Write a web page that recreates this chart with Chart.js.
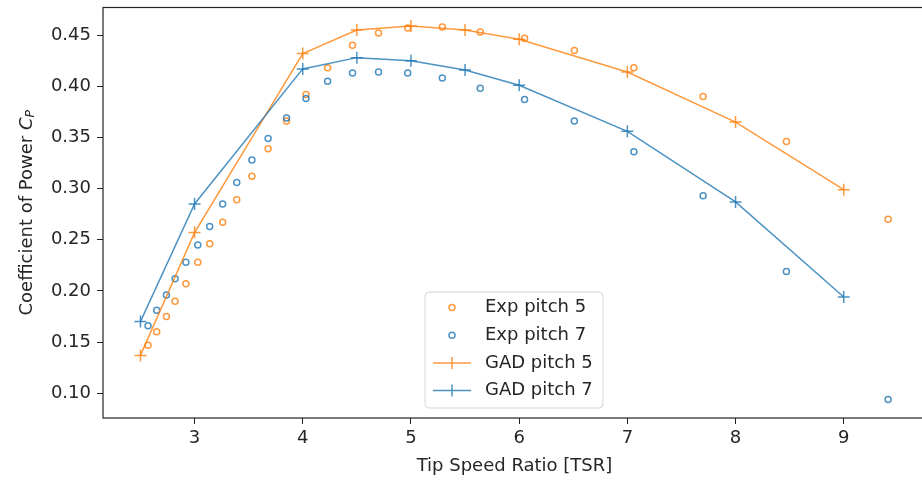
<!DOCTYPE html>
<html>
<head>
<meta charset="utf-8">
<script src="https://cdn.jsdelivr.net/npm/chart.js@4.4.1/dist/chart.umd.min.js"></script>
<style>
  body { margin: 0; background: #fff; overflow: hidden; }
  #wrap { width: 922px; height: 483px; overflow: hidden; }
</style>
</head>
<body>
<div id="wrap"><canvas id="cpChart" width="940" height="483"></canvas></div>
<script>
// Measured data
const expTsr = [2.57, 2.65, 2.74, 2.82, 2.92, 3.03, 3.14, 3.26, 3.39, 3.53, 3.68, 3.85, 4.03, 4.23, 4.46, 4.70, 4.97, 5.29, 5.64, 6.05, 6.51, 7.06, 7.70, 8.47, 9.41];
const expPitch5 = [0.147, 0.160, 0.175, 0.190, 0.207, 0.228, 0.246, 0.267, 0.289, 0.312, 0.339, 0.366, 0.392, 0.418, 0.440, 0.452, 0.457, 0.458, 0.453, 0.447, 0.435, 0.418, 0.390, 0.346, 0.270];
const expPitch7 = [0.166, 0.181, 0.196, 0.212, 0.228, 0.245, 0.263, 0.285, 0.306, 0.328, 0.349, 0.369, 0.388, 0.405, 0.413, 0.414, 0.413, 0.408, 0.398, 0.387, 0.366, 0.336, 0.293, 0.219, 0.094];

// GAD simulation results
const gadTsr = [2.5, 3, 4, 4.5, 5, 5.5, 6, 7, 8, 9];
const gadPitch5 = [0.137, 0.257, 0.432, 0.455, 0.459, 0.455, 0.446, 0.414, 0.365, 0.299];
const gadPitch7 = [0.170, 0.285, 0.417, 0.428, 0.425, 0.416, 0.401, 0.356, 0.287, 0.194];

const xTicks = [3, 4, 5, 6, 7, 8, 9];
const yTicks = [0.10, 0.15, 0.20, 0.25, 0.30, 0.35, 0.40, 0.45];

const ORANGE = 'rgba(255, 127, 14, 0.8)';
const BLUE = 'rgba(31, 119, 180, 0.8)';
const FONT = 'DejaVu Sans';
const TEXT = '#262626';

function pts(xs, ys) {
  return xs.map((x, i) => ({ x: x, y: ys[i] }));
}

// frame around the plot area
const framePlugin = {
  id: 'frame',
  afterDraw(chart) {
    const { ctx, chartArea: a } = chart;
    ctx.save();
    ctx.strokeStyle = '#222';
    ctx.lineWidth = 1.2;
    ctx.strokeRect(a.left, a.top, a.right - a.left, a.bottom - a.top);
    ctx.restore();
  }
};

// y label with italic C and subscript P
const yTitlePlugin = {
  id: 'yTitle',
  afterDraw(chart) {
    const { ctx, chartArea: a } = chart;
    const parts = [
      { t: 'Coefficient of Power ', f: '18px "' + FONT + '"', dy: 0 },
      { t: 'C', f: 'italic 18px "' + FONT + '"', dy: 0 },
      { t: 'P', f: 'italic 12.5px "' + FONT + '"', dy: 4 }
    ];
    ctx.save();
    ctx.translate(27, (a.top + a.bottom) / 2);
    ctx.rotate(-Math.PI / 2);
    ctx.fillStyle = TEXT;
    ctx.textBaseline = 'middle';
    ctx.textAlign = 'left';
    let total = 0;
    parts.forEach(p => { ctx.font = p.f; total += ctx.measureText(p.t).width; });
    let x = -total / 2;
    parts.forEach(p => {
      ctx.font = p.f;
      ctx.fillText(p.t, x, p.dy);
      x += ctx.measureText(p.t).width;
    });
    ctx.restore();
  }
};

// legend box inside the plot, lower middle
const legendPlugin = {
  id: 'innerLegend',
  afterDraw(chart) {
    const ctx = chart.ctx;
    const bx = 425, by = 292, bw = 178, bh = 116, r = 4;
    ctx.save();
    ctx.beginPath();
    ctx.moveTo(bx + r, by);
    ctx.arcTo(bx + bw, by, bx + bw, by + bh, r);
    ctx.arcTo(bx + bw, by + bh, bx, by + bh, r);
    ctx.arcTo(bx, by + bh, bx, by, r);
    ctx.arcTo(bx, by, bx + bw, by, r);
    ctx.closePath();
    ctx.fillStyle = 'rgba(255,255,255,0.8)';
    ctx.fill();
    ctx.strokeStyle = '#d5d5d5';
    ctx.lineWidth = 1;
    ctx.stroke();

    chart.data.datasets.forEach((ds, i) => {
      const y = 307.5 + i * 27.7;
      const mx = 452;
      ctx.strokeStyle = ds.borderColor;
      ctx.lineWidth = 1.5;
      if (ds.showLine) {
        ctx.beginPath();
        ctx.moveTo(433, y);
        ctx.lineTo(471, y);
        ctx.moveTo(mx, y - 6);
        ctx.lineTo(mx, y + 6);
        ctx.stroke();
      } else {
        ctx.beginPath();
        ctx.arc(mx, y, 3, 0, Math.PI * 2);
        ctx.stroke();
      }
      ctx.fillStyle = TEXT;
      ctx.font = '18px "' + FONT + '"';
      ctx.textBaseline = 'middle';
      ctx.fillText(ds.label, 485, y);
    });
    ctx.restore();
  }
};

const ctx = document.getElementById('cpChart').getContext('2d');
new Chart(ctx, {
  type: 'scatter',
  data: {
    datasets: [
      {
        label: 'Exp pitch 5',
        data: pts(expTsr, expPitch5),
        showLine: false,
        borderColor: ORANGE,
        backgroundColor: 'rgba(0,0,0,0)',
        pointStyle: 'circle',
        pointRadius: 3,
        pointBorderWidth: 1.5,
        order: 4
      },
      {
        label: 'Exp pitch 7',
        data: pts(expTsr, expPitch7),
        showLine: false,
        borderColor: BLUE,
        backgroundColor: 'rgba(0,0,0,0)',
        pointStyle: 'circle',
        pointRadius: 3,
        pointBorderWidth: 1.5,
        order: 3
      },
      {
        label: 'GAD pitch 5',
        data: pts(gadTsr, gadPitch5),
        showLine: true,
        tension: 0,
        borderColor: ORANGE,
        backgroundColor: 'rgba(0,0,0,0)',
        borderWidth: 1.5,
        pointStyle: 'cross',
        pointRadius: 6,
        pointBorderWidth: 1.5,
        order: 2
      },
      {
        label: 'GAD pitch 7',
        data: pts(gadTsr, gadPitch7),
        showLine: true,
        tension: 0,
        borderColor: BLUE,
        backgroundColor: 'rgba(0,0,0,0)',
        borderWidth: 1.5,
        pointStyle: 'cross',
        pointRadius: 6,
        pointBorderWidth: 1.5,
        order: 1
      }
    ]
  },
  options: {
    responsive: false,
    maintainAspectRatio: false,
    animation: false,
    devicePixelRatio: 1,
    layout: { padding: { left: 0, top: 7, right: 14, bottom: 0 } },
    plugins: {
      legend: { display: false },
      tooltip: { enabled: false }
    },
    scales: {
      x: {
        type: 'linear',
        min: 2.154,
        max: 9.76,
        afterBuildTicks: (axis) => { axis.ticks = xTicks.map(v => ({ value: v })); },
        afterFit: (axis) => { axis.height = 65; axis.paddingLeft = 0; axis.paddingRight = 0; },
        grid: { drawOnChartArea: false, drawTicks: true, tickLength: 6, tickColor: '#222', tickWidth: 1 },
        border: { display: false },
        ticks: {
          autoSkip: false,
          maxRotation: 0,
          padding: 4,
          color: TEXT,
          font: { family: FONT, size: 18 },
          callback: (v) => String(v)
        },
        title: {
          display: true,
          text: 'Tip Speed Ratio [TSR]',
          color: TEXT,
          font: { family: FONT, size: 18 },
          padding: { top: 0, bottom: 6 }
        }
      },
      y: {
        type: 'linear',
        min: 0.0758,
        max: 0.477,
        afterBuildTicks: (axis) => { axis.ticks = yTicks.map(v => ({ value: v })); },
        afterFit: (axis) => { axis.width = 103; axis.paddingTop = 0; axis.paddingBottom = 0; },
        grid: { drawOnChartArea: false, drawTicks: true, tickLength: 6, tickColor: '#222', tickWidth: 1 },
        border: { display: false },
        ticks: {
          autoSkip: false,
          padding: 6,
          color: TEXT,
          font: { family: FONT, size: 18 },
          callback: (v) => v.toFixed(2)
        }
      }
    }
  },
  plugins: [framePlugin, yTitlePlugin, legendPlugin]
});
</script>
</body>
</html>
